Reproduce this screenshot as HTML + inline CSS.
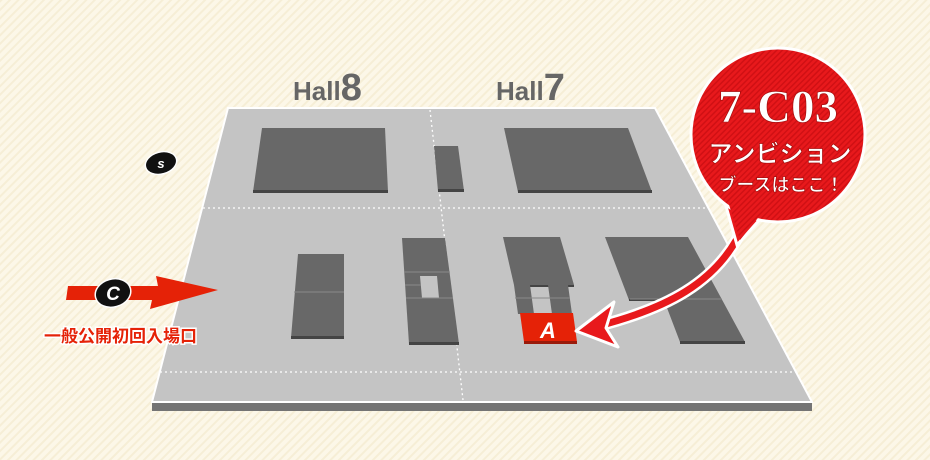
<!DOCTYPE html>
<html><head><meta charset="utf-8"><style>
html,body{margin:0;padding:0;width:930px;height:460px;overflow:hidden;background:#fbf5e4;}
svg{display:block}
</style></head><body>
<svg width="930" height="460" viewBox="0 0 930 460" xmlns="http://www.w3.org/2000/svg">
<defs>
<pattern id="bg" width="6" height="6" patternUnits="userSpaceOnUse" patternTransform="rotate(45)">
<rect width="6" height="6" fill="#fcf7e8"/><rect width="2" height="6" fill="#f6eed6"/></pattern>
<pattern id="rd" width="4" height="4" patternUnits="userSpaceOnUse" patternTransform="rotate(45)">
<rect width="4" height="4" fill="#e8191c"/><rect width="1.5" height="4" fill="#d01014"/></pattern>
</defs>
<rect width="930" height="460" fill="url(#bg)"/>
<polygon points="152,402 812,402 812,411 152,411" fill="#747474"/>
<polygon points="228,108 655,108 812,402 152,402" fill="#c4c4c4" stroke="#fff" stroke-width="2"/>
<g stroke="#fff" stroke-width="1.3" stroke-dasharray="2,3" fill="none">
<line x1="203" y1="208" x2="708" y2="208"/>
<line x1="160" y1="372" x2="796" y2="372"/>
<line x1="430" y1="110" x2="463" y2="400"/>
</g>
<g fill="#686868">
<polygon points="262,128 385,128 388,192 253,192"/><rect x="253" y="190" width="135" height="3" fill="#444"/>
<polygon points="434,146 458,146 464,191 438,191"/><rect x="438" y="189" width="26" height="3" fill="#444"/>
<polygon points="504,128 628,128 652,192 518,192"/><rect x="518" y="190" width="134" height="3" fill="#444"/>
<polygon points="298,254 344,254 344,338 291,338"/><rect x="291" y="336" width="53" height="3" fill="#444"/>
<line x1="294" y1="292" x2="344" y2="292" stroke="#8a8a8a"/>
<polygon points="402,238 445,238 459,344 409,344"/><rect x="409" y="342" width="50" height="3" fill="#444"/>
<polygon points="420,276 437,276 439,298 422,298" fill="#c4c4c4"/>
<g stroke="#8a8a8a"><line x1="404" y1="272" x2="450" y2="272"/><line x1="405" y1="285" x2="421" y2="285"/><line x1="406" y1="298" x2="453" y2="298"/></g>
<polygon points="503,237 560,237 574,285 514,285"/><rect x="530" y="285" width="44" height="2" fill="#444"/>
<polygon points="514,285 530,285 534,314 518,314"/>
<polygon points="548,285 568,285 572,314 552,314"/>
<line x1="515" y1="298" x2="570" y2="298" stroke="#8a8a8a"/>
<polygon points="605,237 688,237 745,342 680,342 664,300 629,300"/>
<rect x="629" y="299" width="36" height="2" fill="#444"/><rect x="680" y="341" width="65" height="3" fill="#444"/>
<line x1="630" y1="299" x2="722" y2="299" stroke="#8a8a8a"/>
</g>
<polygon points="520,313 573,313 577,342 524,342" fill="#e52207"/><rect x="524" y="341" width="53" height="3" fill="#9a1a0a"/>
<text x="540" y="338" font-family="Liberation Sans,sans-serif" font-weight="bold" font-style="italic" font-size="22" fill="#fff">A</text>
<path d="M745,222 C720,285 660,310 598,326" fill="none" stroke="#fff" stroke-width="12"/>
<path d="M745,222 C720,285 660,310 598,326" fill="none" stroke="#e8191c" stroke-width="7"/>
<polygon points="576,331 614,302 606,328 618,347" fill="#e8191c" stroke="#fff" stroke-width="3" stroke-linejoin="round"/>
<polygon points="722,192 770,208 737,245" fill="#e8191c" stroke="#fff" stroke-width="3"/>
<circle cx="778" cy="135" r="87" fill="url(#rd)" stroke="#fff" stroke-width="3"/>
<polygon points="726,195 766,208 740,240" fill="url(#rd)"/>
<g font-family="Liberation Sans,'Noto Sans CJK JP',sans-serif" font-weight="bold" fill="#fff" text-anchor="middle" stroke="#a50d0d" stroke-width="0.7">
<text x="778" y="122" font-size="47" font-family="Liberation Serif,serif">7-C03</text>
<text x="780" y="162" font-size="24">アンビション</text>
<text x="781" y="191" font-size="18">ブースはここ！</text>
</g>
<g font-family="Liberation Sans,sans-serif" font-weight="bold" fill="#666">
<text x="293" y="100" font-size="26">Hall<tspan font-size="38">8</tspan></text>
<text x="496" y="100" font-size="26">Hall<tspan font-size="38">7</tspan></text>
</g>
<ellipse cx="161" cy="163" rx="16" ry="11" fill="#111" stroke="#fff" stroke-width="1.5" transform="rotate(-15 161 163)"/>
<text x="161" y="168" font-family="Liberation Sans,sans-serif" font-weight="bold" font-style="italic" font-size="13" fill="#fff" text-anchor="middle">s</text>
<polygon points="68,286 158,286 156,276 218,290 150,309 152,300 66,300" fill="#e52207"/>
<ellipse cx="113" cy="293" rx="18" ry="14" fill="#111" stroke="#fff" stroke-width="1.5" transform="rotate(-15 113 293)"/>
<text x="113" y="300" font-family="Liberation Sans,sans-serif" font-weight="bold" font-style="italic" font-size="19" fill="#fff" text-anchor="middle">C</text>
<text x="44" y="342" font-family="Liberation Sans,'Noto Sans CJK JP',sans-serif" font-weight="bold" font-size="17" fill="#e52207" stroke="#fff" stroke-width="3" paint-order="stroke">一般公開初回入場口</text>
</svg>
</body></html>
